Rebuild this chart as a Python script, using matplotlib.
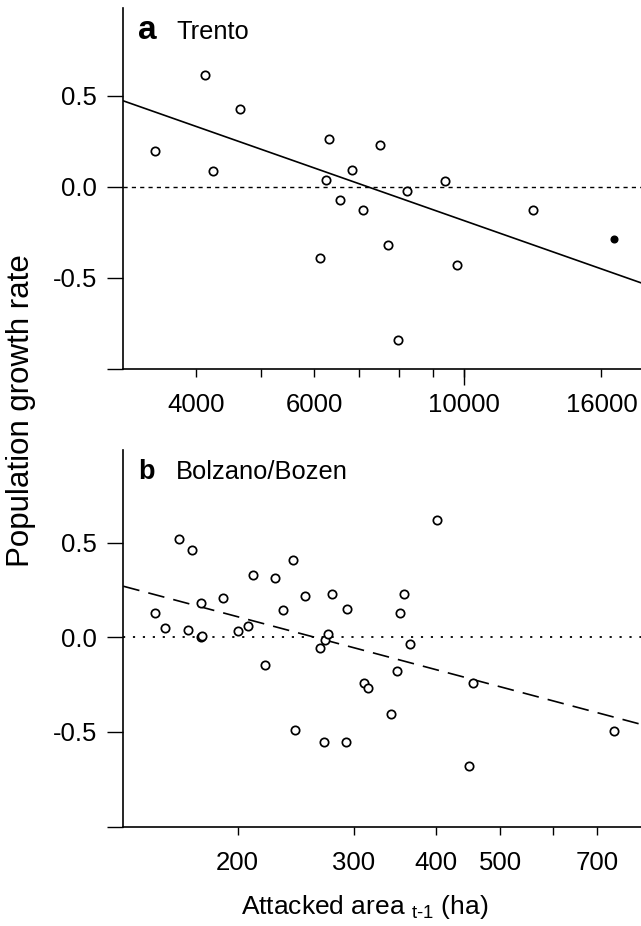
import matplotlib
matplotlib.use("Agg")
import matplotlib.pyplot as plt
from matplotlib.ticker import NullFormatter

plt.rcParams['font.family'] = ['Liberation Sans', 'DejaVu Sans']
plt.rcParams['mathtext.fontset'] = 'custom'
plt.rcParams['mathtext.rm'] = 'Liberation Sans'
plt.rcParams['mathtext.it'] = 'Liberation Sans:italic'
plt.rcParams['mathtext.bf'] = 'Liberation Sans:bold'

# panel a - Trento
trento_area = [3481, 4129, 4249, 4649, 6314, 7499, 6831, 6237, 8228, 9376,
               6543, 7086, 7725, 6111, 7993, 9757, 12664]
trento_growth = [0.195, 0.616, 0.089, 0.428, 0.265, 0.227, 0.091, 0.038, -0.025, 0.031,
                 -0.071, -0.128, -0.320, -0.393, -0.843, -0.430, -0.128]
trento_last_area = [16719]
trento_last_growth = [-0.284]
trento_fit_area = [3124, 18316]
trento_fit_growth = [0.472, -0.527]
trento_xlim = (3124, 18316)
trento_major = [4000, 6000, 10000, 16000]
trento_major_labels = ['4000', '6000', '10000', '16000']
trento_minor = [5000, 7000, 8000, 9000]

# panel b - Bolzano/Bozen
bozen_area = [150.0, 155.0, 163.0, 168.2, 170.8, 175.7, 176.4, 176.1, 190.1, 200.0,
              207.1, 210.9, 220.3, 228.0, 234.4, 242.2, 244.3, 253.2, 266.7, 270.2,
              271.2, 274.2, 278.2, 291.9, 292.9, 311.1, 314.9, 341.5, 348.9, 352.3,
              357.0, 365.2, 400.6, 448.1, 454.1, 743.5]
bozen_growth = [0.131, 0.049, 0.521, 0.041, 0.461, 0.002, 0.006, 0.182, 0.210, 0.034,
                0.062, 0.328, -0.148, 0.311, 0.143, 0.411, -0.489, 0.219, -0.055, -0.556,
                -0.016, 0.016, 0.228, -0.556, 0.152, -0.242, -0.267, -0.404, -0.178, 0.131,
                0.228, -0.037, 0.620, -0.681, -0.242, -0.494]
bozen_fit_area = [134.2, 816.7]
bozen_fit_growth = [0.270, -0.460]
bozen_xlim = (134.2, 816.7)
bozen_major = [200, 300, 400, 500, 700]
bozen_major_labels = ['200', '300', '400', '500', '700']
bozen_minor = [600]

y_ticks = [-1.0, -0.5, 0.0, 0.5]
y_tick_labels = ['', '-0.5', '0.0', '0.5']

W, H = 641, 926


def style_axes(ax, xlim, ylim, major, major_labels, minor):
    ax.set_xscale('log')
    ax.set_xlim(*xlim)
    ax.set_ylim(*ylim)
    for s in ['top', 'right']:
        ax.spines[s].set_visible(False)
    for s in ['left', 'bottom']:
        ax.spines[s].set_linewidth(1.2)
    ax.set_xticks(major, labels=major_labels)
    ax.set_xticks(minor, minor=True)
    ax.xaxis.set_minor_formatter(NullFormatter())
    ax.set_yticks(y_ticks, labels=y_tick_labels)
    ax.tick_params(axis='x', which='both', length=5.8, width=1.0, pad=11.5,
                   labelsize=18.5, direction='out')
    ax.tick_params(axis='y', length=11.5, width=1.0, pad=7.2, labelsize=18.5,
                   direction='out')


fig = plt.figure(figsize=(W / 100, H / 100), dpi=100)

# top panel
ax_a = fig.add_axes([123.3 / W, 1 - 369 / H, 1 - 123.3 / W, (369 - 8.3) / H])
style_axes(ax_a, trento_xlim, (-1.0, 0.98), trento_major, trento_major_labels, trento_minor)
ax_a.axhline(0, color='k', lw=1.0, ls=(0, (3, 3)), zorder=1)
ax_a.plot(trento_fit_area, trento_fit_growth, color='k', lw=1.2, zorder=2)
ax_a.plot(trento_area, trento_growth, ls='none', marker='o', ms=6.0, mew=1.25,
          mfc='white', mec='k', zorder=3)
ax_a.plot(trento_last_area, trento_last_growth, ls='none', marker='o', ms=4.8,
          mfc='k', mec='k', zorder=3)
# longer tick at the decade
ax_a.plot([10000], [-1.0], marker=3, ms=11.5, mew=1.0, color='k', clip_on=False)

# bottom panel
ax_b = fig.add_axes([123.3 / W, 1 - 826.5 / H, 1 - 123.3 / W, (826.5 - 450) / H])
style_axes(ax_b, bozen_xlim, (-1.0, 0.99), bozen_major, bozen_major_labels, bozen_minor)
ax_b.axhline(0, color='k', lw=1.3, ls=(0, (1.2, 4.3)), zorder=1)
ax_b.plot(bozen_fit_area, bozen_fit_growth, color='k', lw=1.2, ls=(0, (10, 5.5)), zorder=2)
ax_b.plot(bozen_area, bozen_growth, ls='none', marker='o', ms=6.0, mew=1.25,
          mfc='white', mec='k', zorder=3)

# panel labels
fig.text(138 / W, 1 - 39 / H, 'a', fontsize=24, fontweight='bold', va='baseline')
fig.text(176 / W, 1 - 39 / H, 'Trento', fontsize=18.4, va='baseline')
fig.text(138 / W, 1 - 479.3 / H, 'b', fontsize=19.5, fontweight='bold', va='baseline')
fig.text(175.7 / W, 1 - 479.3 / H, 'Bolzano/Bozen', fontsize=18.4, va='baseline')

# axis titles
fig.text(21 / W, 1 - 411 / H, 'Population growth rate', rotation=90,
         ha='center', va='center', fontsize=22.5)
fig.text(365 / W, 1 - 914 / H, r'Attacked area $_{\text{t-1}}$ (ha)',
         ha='center', va='baseline', fontsize=19)

fig.savefig('out.png', dpi=100)
